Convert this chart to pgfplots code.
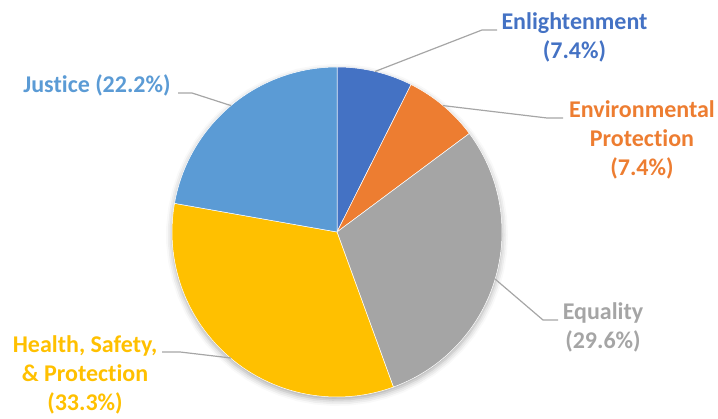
\documentclass[border=0pt]{standalone}
\usepackage{pgfplots}
\pgfplotsset{compat=1.18}
\usepackage{fontspec}
\setmainfont[Ligatures={NoCommon}]{Carlito}
\usetikzlibrary{shadows.blur}
\definecolor{cEnl}{HTML}{4472C4}
\definecolor{cEnv}{HTML}{ED7D31}
\definecolor{cEqu}{HTML}{A5A5A5}
\definecolor{cHea}{HTML}{FFC000}
\definecolor{cJus}{HTML}{5B9BD5}
\definecolor{cLine}{HTML}{A6A6A6}
\begin{document}
\begin{tikzpicture}
% slice values (percent)
\def\vA{7.4}  % Enlightenment
\def\vB{7.4}  % Environmental Protection
\def\vC{29.6} % Equality
\def\vD{33.3} % Health, Safety, & Protection
\def\vE{22.2} % Justice
\pgfmathsetmacro{\tot}{\vA+\vB+\vC+\vD+\vE}
\pgfmathsetmacro{\aA}{90}
\pgfmathsetmacro{\aB}{\aA-360*\vA/\tot}
\pgfmathsetmacro{\aC}{\aB-360*\vB/\tot}
\pgfmathsetmacro{\aD}{\aC-360*\vC/\tot}
\pgfmathsetmacro{\aE}{\aD-360*\vD/\tot}
\pgfmathsetmacro{\aF}{\aE-360*\vE/\tot}
\def\cx{337}\def\cy{232}\def\rr{165}
\begin{axis}[hide axis, scale only axis, width=718pt, height=419pt,
  xmin=0, xmax=718, ymin=0, ymax=419, y dir=reverse, clip=false,
  every axis plot/.append style={variable=\t, samples=60}]
\addplot[draw=none, fill=white, domain=0:360,
  blur shadow={shadow xshift=0pt, shadow yshift=-3pt, shadow blur radius=6pt, shadow opacity=35}]
  ({\cx+\rr*cos(\t)},{\cy-\rr*sin(\t)}) -- cycle;
\addplot[fill=cEnl, draw=white, line width=0.5pt, domain=\aB:\aA]
  ({\cx+\rr*cos(\t)},{\cy-\rr*sin(\t)}) -- (axis cs:\cx,\cy) -- cycle;
\addplot[fill=cEnv, draw=white, line width=0.5pt, domain=\aC:\aB]
  ({\cx+\rr*cos(\t)},{\cy-\rr*sin(\t)}) -- (axis cs:\cx,\cy) -- cycle;
\addplot[fill=cEqu, draw=white, line width=0.5pt, domain=\aD:\aC]
  ({\cx+\rr*cos(\t)},{\cy-\rr*sin(\t)}) -- (axis cs:\cx,\cy) -- cycle;
\addplot[fill=cHea, draw=white, line width=0.5pt, domain=\aE:\aD]
  ({\cx+\rr*cos(\t)},{\cy-\rr*sin(\t)}) -- (axis cs:\cx,\cy) -- cycle;
\addplot[fill=cJus, draw=white, line width=0.5pt, domain=\aF:\aE]
  ({\cx+\rr*cos(\t)},{\cy-\rr*sin(\t)}) -- (axis cs:\cx,\cy) -- cycle;
% leader lines
\addplot[draw=cLine, line width=1.2pt] coordinates {(375,71.5) (482,30) (497,30)};
\addplot[draw=cLine, line width=1.2pt] coordinates {(443,105.6) (547,118) (563,118)};
\addplot[draw=cLine, line width=1.2pt] coordinates {(495,279) (543,320) (558,320)};
\addplot[draw=cLine, line width=1.2pt] coordinates {(231,358) (180,352) (162,352)};
\addplot[draw=cLine, line width=1.2pt] coordinates {(231,105.6) (192,93) (178,93)};
% labels
\tikzset{lbl/.style={align=center, inner sep=0pt, font=\bfseries\fontsize{24}{29}\selectfont}}
\node[lbl, text=cEnl] at (axis cs:574.5,37.5) {Enlightenment\\(7.4\%)};
\node[lbl, text=cEnv] at (axis cs:642,140) {Environmental\\Protection\\(7.4\%)};
\node[lbl, text=cEqu] at (axis cs:603,327.5) {Equality\\(29.6\%)};
\node[lbl, text=cHea] at (axis cs:85,375) {Health, Safety,\\\& Protection\\(33.3\%)};
\node[lbl, text=cJus] at (axis cs:97,85) {Justice (22.2\%)};
\end{axis}
\pgfresetboundingbox
\path (0,0) rectangle (718pt,419pt);
\end{tikzpicture}
\end{document}
